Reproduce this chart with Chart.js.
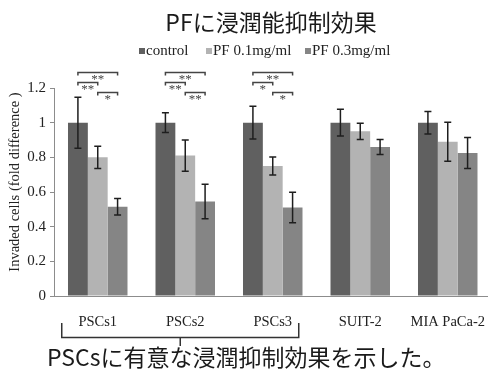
<!DOCTYPE html>
<html>
<head>
<meta charset="utf-8">
<script src="https://cdn.jsdelivr.net/npm/chart.js@4/dist/chart.umd.min.js"></script>
<style>
  html, body { margin: 0; padding: 0; background: #fff; overflow: hidden; }
  #wrap { width: 488px; height: 383px; overflow: hidden; position: relative; }
  canvas { display: block; }
</style>
</head>
<body>
<div id="wrap"><canvas id="c" width="494" height="383"></canvas></div>
<script>
// Cell lines on the x axis
const categories = ['PSCs1', 'PSCs2', 'PSCs3', 'SUIT-2', 'MIA PaCa-2'];
// Series names (legend)
const seriesNames = ['control', 'PF 0.1mg/ml', 'PF 0.3mg/ml'];
// Invaded cells, fold difference vs control
const controlValues = [1.0, 1.0, 1.0, 1.0, 1.0];
const pf01Values    = [0.80, 0.81, 0.75, 0.95, 0.89];
const pf03Values    = [0.515, 0.545, 0.51, 0.86, 0.825];
// Error bar half-lengths
const controlErr = [0.147, 0.057, 0.094, 0.077, 0.065];
const pf01Err    = [0.064, 0.09, 0.052, 0.047, 0.113];
const pf03Err    = [0.048, 0.10, 0.088, 0.043, 0.09];
// Y tick values
const yTicks = [0, 0.2, 0.4, 0.6, 0.8, 1, 1.2];
// Significance brackets: [category index, from series, to series, label, level]
const sigCategory = [0, 0, 0, 1, 1, 1, 2, 2, 2];
const sigFrom     = [0, 0, 1, 0, 0, 1, 0, 0, 1];
const sigTo       = [2, 1, 2, 2, 1, 2, 2, 1, 2];
const sigLabel    = ['**', '**', '*', '**', '**', '**', '**', '*', '*'];
const sigLevel    = [1.292, 1.235, 1.177, 1.292, 1.235, 1.177, 1.292, 1.235, 1.177];

const titleText = 'PFに浸潤能抑制効果';
const yTitleText = 'Invaded cells (fold difference )';
const noteText = 'PSCsに有意な浸潤抑制効果を示した。';

const colors = ['#606060', '#b3b3b3', '#858585'];
const seriesValues = [controlValues, pf01Values, pf03Values];
const seriesErr = [controlErr, pf01Err, pf03Err];

const SERIF = '"Liberation Serif", "Times New Roman", serif';
const CJK = '"Noto Sans CJK JP", "Noto Sans", sans-serif';

const decorations = {
  id: 'decorations',
  afterDatasetsDraw(chart) {
    const ctx = chart.ctx;
    const y = chart.scales.y;

    // error bars
    ctx.save();
    ctx.strokeStyle = '#1e1e1e';
    ctx.lineWidth = 1.5;
    seriesValues.forEach((vals, di) => {
      const meta = chart.getDatasetMeta(di);
      vals.forEach((v, i) => {
        const bx = meta.data[i].x;
        const top = y.getPixelForValue(v + seriesErr[di][i]);
        const bot = y.getPixelForValue(v - seriesErr[di][i]);
        ctx.beginPath();
        ctx.moveTo(bx, top); ctx.lineTo(bx, bot);
        ctx.moveTo(bx - 3.5, top); ctx.lineTo(bx + 3.5, top);
        ctx.moveTo(bx - 3.5, bot); ctx.lineTo(bx + 3.5, bot);
        ctx.stroke();
      });
    });
    ctx.restore();

    // significance brackets
    ctx.save();
    ctx.strokeStyle = '#444';
    ctx.fillStyle = '#444';
    ctx.lineWidth = 1.5;
    ctx.font = '13px ' + SERIF;
    ctx.textAlign = 'center';
    ctx.textBaseline = 'top';
    sigCategory.forEach((ci, k) => {
      const x1 = chart.getDatasetMeta(sigFrom[k]).data[ci].x;
      const x2 = chart.getDatasetMeta(sigTo[k]).data[ci].x;
      const ly = Math.round(y.getPixelForValue(sigLevel[k])) + 0.5;
      ctx.beginPath();
      ctx.moveTo(x1, ly + 3); ctx.lineTo(x1, ly); ctx.lineTo(x2, ly); ctx.lineTo(x2, ly + 3);
      ctx.stroke();
      ctx.fillText(sigLabel[k], (x1 + x2) / 2, ly + 1);
    });
    ctx.restore();
  },
  afterDraw(chart) {
    const ctx = chart.ctx;
    const x = chart.scales.x;
    ctx.save();

    // title
    ctx.fillStyle = '#1a1a1a';
    ctx.font = '23px ' + CJK;
    ctx.textAlign = 'center';
    ctx.textBaseline = 'middle';
    ctx.fillText(titleText, 271, 22);

    // legend
    ctx.font = '15px ' + SERIF;
    ctx.textAlign = 'left';
    ctx.textBaseline = 'middle';
    const legendY = 51;
    const legendX = [139, 206, 305];
    seriesNames.forEach((name, i) => {
      ctx.fillStyle = colors[i];
      ctx.fillRect(legendX[i], legendY - 3, 6, 6);
      ctx.fillStyle = '#222';
      ctx.fillText(name, legendX[i] + 7, legendY);
    });

    // y axis title
    ctx.save();
    ctx.translate(15, 182);
    ctx.rotate(-Math.PI / 2);
    ctx.textAlign = 'center';
    ctx.textBaseline = 'middle';
    ctx.fillStyle = '#222';
    ctx.font = '14.5px ' + SERIF;
    ctx.fillText(yTitleText, 0, 0);
    ctx.restore();

    // bracket grouping the PSCs lines
    const left = x.getPixelForValue(0) - 36;
    const right = x.getPixelForValue(2) + 26;
    const mid = (left + right) / 2;
    ctx.strokeStyle = '#333';
    ctx.lineWidth = 1.5;
    ctx.beginPath();
    ctx.moveTo(left, 323); ctx.lineTo(left, 337.5); ctx.lineTo(right, 337.5); ctx.lineTo(right, 323);
    ctx.moveTo(mid, 337.5); ctx.lineTo(mid, 346);
    ctx.stroke();

    // note
    ctx.fillStyle = '#1a1a1a';
    ctx.font = '23px ' + CJK;
    ctx.textAlign = 'left';
    ctx.textBaseline = 'middle';
    ctx.fillText(noteText, 47, 357);
    ctx.restore();
  }
};

new Chart(document.getElementById('c'), {
  type: 'bar',
  data: {
    labels: categories,
    datasets: seriesNames.map((name, i) => ({
      label: name,
      data: seriesValues[i],
      backgroundColor: colors[i],
      borderWidth: 0,
      categoryPercentage: 0.68,
      barPercentage: 1.0
    }))
  },
  options: {
    responsive: false,
    animation: false,
    devicePixelRatio: 1,
    layout: { padding: { top: 88, bottom: 57, left: 0, right: 0 } },
    plugins: {
      legend: { display: false },
      title: { display: false },
      tooltip: { enabled: false }
    },
    scales: {
      x: {
        grid: { display: false },
        border: { display: true, color: '#8c8c8c', width: 1 },
        ticks: { color: '#222', font: { family: SERIF, size: 14.5 }, padding: 9, maxRotation: 0, autoSkip: false },
        afterFit(scale) { scale.height = 30; }
      },
      y: {
        min: 0,
        max: 1.2,
        afterBuildTicks(scale) { scale.ticks = yTicks.map(v => ({ value: v })); },
        grid: { drawOnChartArea: false, drawTicks: true, tickLength: 4, color: '#8c8c8c' },
        border: { display: true, color: '#8c8c8c', width: 1 },
        ticks: {
          color: '#222',
          font: { family: SERIF, size: 15 },
          padding: 4,
          callback: v => String(Math.round(v * 10) / 10)
        },
        afterFit(scale) { scale.width = 54; }
      }
    }
  },
  plugins: [decorations]
});
</script>
</body>
</html>
